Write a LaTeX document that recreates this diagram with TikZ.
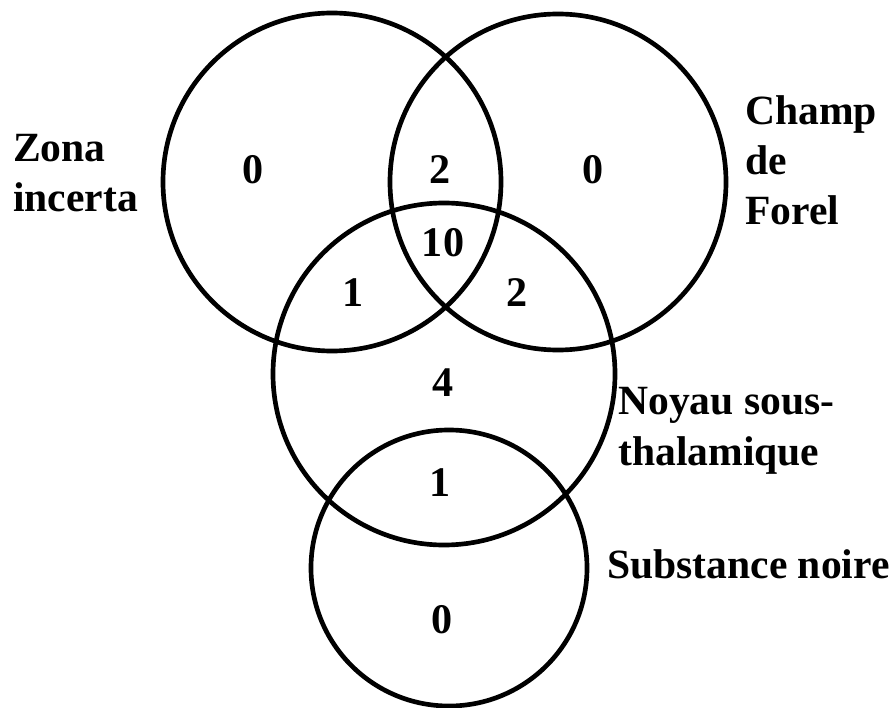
\documentclass[tikz,border=0pt]{standalone}
\usepackage{fontspec}
\setmainfont{Liberation Serif}
\usetikzlibrary{positioning}

\begin{document}
\begin{tikzpicture}[
    x=0.03cm, y=-0.03cm,
    set/.style={draw, circle, line width=0.14cm, inner sep=0pt, outer sep=0pt},
    count/.style={font=\fontsize{36}{43}\selectfont\bfseries, inner sep=0pt},
    setlabel/.style={font=\fontsize{35.5}{43}\selectfont\bfseries, align=left, inner sep=0pt, anchor=base west}
]
\useasboundingbox (0,0) rectangle (894,708);

% ---------- Sets ----------
\node[set, minimum size=10.14cm] (zona) at (332,182) {};
\node[set, minimum size=10.08cm] (forel) at (558,182) {};
\node[set, minimum size=10.26cm] (noyau) at (444,374) {};
\node[set, minimum size=8.28cm] (subst) at (449,568) {};

% ---------- Counts ----------
\node[count] (zonaonly) at (253,170) {0};
\node[count] (forelonly) at (593,170) {0};
\node[count] (zonaforel) at (440,170) {2};
\node[count] (allthree) at (443,243) {10};
\node[count] (zonanoyau) at (353,293) {1};
\node[count] (forelnoyau) at (517,293) {2};
\node[count] (noyauonly) at (443,383) {4};
\node[count] (noyausubst) at (440,483) {1};
\node[count] (substonly) at (442,620) {0};

% ---------- Labels (anchored at the last line's baseline) ----------
\node[setlabel] (zonalabel) at (13,212) {Zona\\incerta};
\node[setlabel] (forellabel) at (745,225) {Champ\\de\\Forel};
\node[setlabel] (noyaulabel) at (618,465) {Noyau sous-\\thalamique};
\node[setlabel] (substlabel) at (607,578) {Substance noire};

\end{tikzpicture}
\end{document}
